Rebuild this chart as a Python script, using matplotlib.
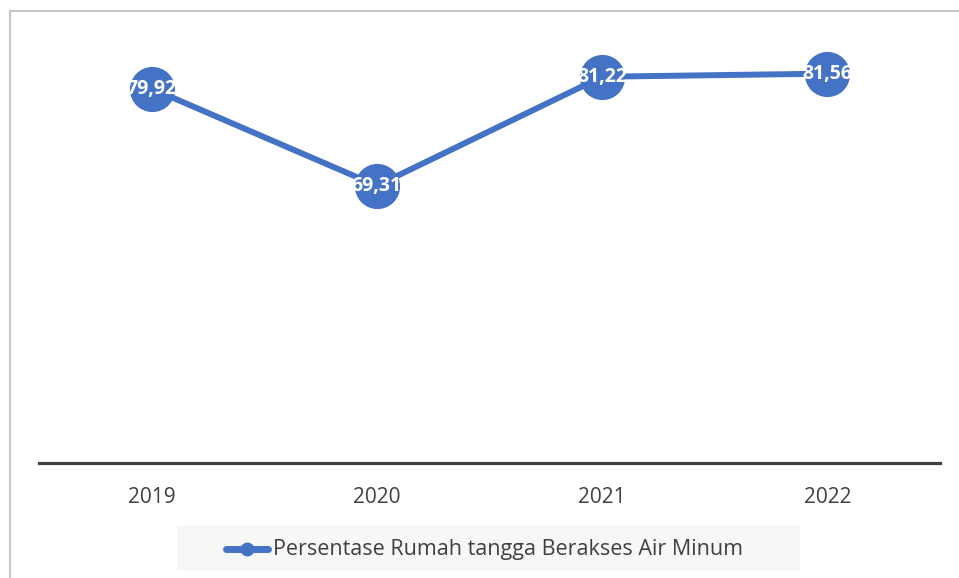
import matplotlib
matplotlib.use('Agg')
import matplotlib.pyplot as plt
from matplotlib.patches import Rectangle
from matplotlib.lines import Line2D

years = ['2019', '2020', '2021', '2022']
values = [79.92, 69.31, 81.22, 81.56]
series_name = 'Persentase Rumah tangga Berakses Air Minum'

blue = '#4472C4'
dark = '#404040'
plt.rcParams['font.family'] = ['Open Sans', 'DejaVu Sans']

W, H = 959, 578
fig = plt.figure(figsize=(W / 100, H / 100), dpi=100)

def fx(px):
    return px / W

def fy(py):
    return 1 - py / H

# plot area
ax = fig.add_axes([fx(39), fy(463), fx(940) - fx(39), fy(33) - fy(463)])
x = list(range(len(years)))
ax.plot(x, values, color=blue, linewidth=4.3, marker='o', markersize=31.5,
        markerfacecolor=blue, markeredgecolor=blue, solid_capstyle='round',
        zorder=2)
for xi, v in zip(x, values):
    ax.text(xi, v, f'{v:.2f}'.replace('.', ','), color='white',
            fontsize=14, fontweight='bold', ha='center', va='center',
            zorder=3)

ax.set_xlim(-0.5, len(years) - 0.5)
ax.set_ylim(39.0, 86.0)
ax.set_xticks(x)
ax.set_xticklabels(years, fontsize=15, color=dark)
ax.set_yticks([])
ax.tick_params(axis='x', length=0, pad=17)
for s in ['top', 'left', 'right']:
    ax.spines[s].set_visible(False)
ax.spines['bottom'].set_color(dark)
ax.spines['bottom'].set_linewidth(2.3)
ax.patch.set_visible(False)

# outer frame (left and top edges)
fig.add_artist(Line2D([fx(10), fx(10)], [0, fy(11)], color='#C8C8C8', lw=1.5))
fig.add_artist(Line2D([fx(10), 1], [fy(11), fy(11)], color='#C8C8C8', lw=1.5))

# legend box
fig.add_artist(Rectangle((fx(177), fy(571)), fx(800) - fx(177), fy(525) - fy(571),
                         facecolor='#F7F7F7', edgecolor='none'))
ly = fy(549)
fig.add_artist(Line2D([fx(226), fx(268)], [ly, ly], color=blue, lw=5,
                      solid_capstyle='round'))
fig.add_artist(Line2D([fx(247)], [ly], color=blue, marker='o', markersize=9))
fig.text(fx(273), ly, series_name, fontsize=15.5, color=dark, ha='left',
         va='center')

fig.savefig('out.png', dpi=100)
